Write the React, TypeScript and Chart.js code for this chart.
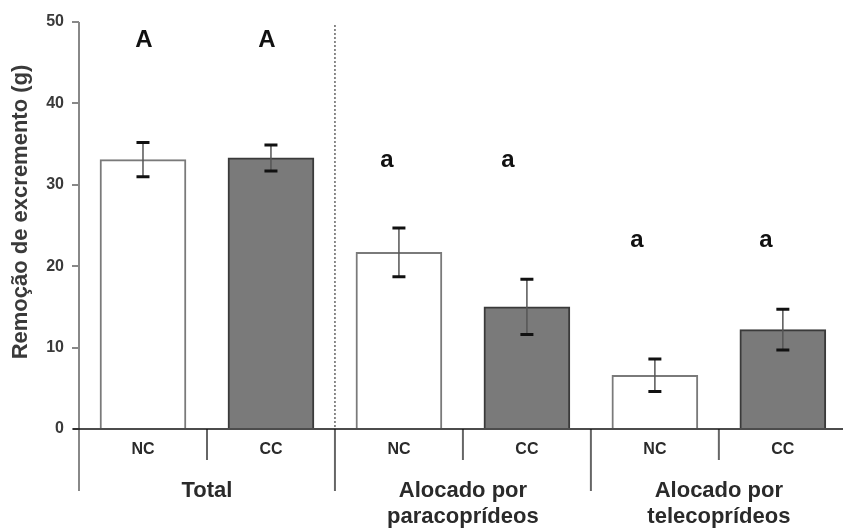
import React, { useEffect, useRef } from "react";
import { Chart, registerables } from "chart.js";

Chart.register(...registerables);

// ---- data ----
const categories = ["NC", "CC", "NC", "CC", "NC", "CC"];
const groupLabels = [["Total"], ["Alocado por", "paracoprídeos"], ["Alocado por", "telecoprídeos"]];
const means = [33.1, 33.3, 21.7, 15.0, 6.6, 12.2];
const errors = [2.1, 1.6, 3.0, 3.4, 2.0, 2.5];
const letters = ["A", "A", "a", "a", "a", "a"];
const letterLevels = [47.8, 47.8, 33.0, 33.0, 23.2, 23.2];
const yTicks = [0, 10, 20, 30, 40, 50];
const yTitle = "Remoção de excremento (g)";

const FONT = "'Liberation Sans', Arial, Helvetica, sans-serif";
const LETTER_SHIFT = [1, -4, -12, -19, -18, -17];

const decorPlugin = {
  id: "decor",
  afterDatasetsDraw(chart: any) {
    const ctx = chart.ctx;
    const xs = chart.scales.x;
    const ys = chart.scales.y;
    ctx.save();
    means.forEach((m, i) => {
      const x = xs.getPixelForValue(i);
      const yt = ys.getPixelForValue(m + errors[i]);
      const yb = ys.getPixelForValue(m - errors[i]);
      ctx.strokeStyle = "#555";
      ctx.lineWidth = 1.5;
      ctx.beginPath();
      ctx.moveTo(x, yt);
      ctx.lineTo(x, yb);
      ctx.stroke();
      ctx.strokeStyle = "#111";
      ctx.lineWidth = 3;
      ctx.beginPath();
      ctx.moveTo(x - 6.5, yt);
      ctx.lineTo(x + 6.5, yt);
      ctx.moveTo(x - 6.5, yb);
      ctx.lineTo(x + 6.5, yb);
      ctx.stroke();
    });
    ctx.restore();
  },
  afterDraw(chart: any) {
    const ctx = chart.ctx;
    const xs = chart.scales.x;
    const ys = chart.scales.y;
    const area = chart.chartArea;
    const y0 = ys.getPixelForValue(0);
    ctx.save();
    // y axis line (extends below zero)
    ctx.strokeStyle = "#888";
    ctx.lineWidth = 2;
    ctx.beginPath();
    ctx.moveTo(area.left, area.top);
    ctx.lineTo(area.left, 491);
    ctx.stroke();
    // dotted divider
    ctx.strokeStyle = "#666";
    ctx.lineWidth = 1.5;
    ctx.setLineDash([2, 2]);
    ctx.beginPath();
    const xd = xs.getPixelForValue(1.5);
    ctx.moveTo(xd, area.top + 3);
    ctx.lineTo(xd, y0);
    ctx.stroke();
    ctx.setLineDash([]);
    // separators
    ctx.strokeStyle = "#666";
    ctx.lineWidth = 2;
    [0.5, 2.5, 4.5].forEach((v) => {
      const x = xs.getPixelForValue(v);
      ctx.beginPath();
      ctx.moveTo(x, y0);
      ctx.lineTo(x, 460);
      ctx.stroke();
    });
    [1.5, 3.5].forEach((v) => {
      const x = xs.getPixelForValue(v);
      ctx.beginPath();
      ctx.moveTo(x, y0);
      ctx.lineTo(x, 491);
      ctx.stroke();
    });
    // x axis line
    ctx.strokeStyle = "#111";
    ctx.lineWidth = 1.5;
    ctx.beginPath();
    ctx.moveTo(area.left - 6, y0);
    ctx.lineTo(area.right, y0);
    ctx.stroke();
    // group labels
    ctx.fillStyle = "#2a2a2a";
    ctx.font = `bold 22px ${FONT}`;
    ctx.textAlign = "center";
    ctx.textBaseline = "middle";
    groupLabels.forEach((lines, g) => {
      const x = xs.getPixelForValue(g * 2 + 0.5);
      lines.forEach((t, k) => ctx.fillText(t, x, 491 + k * 26));
    });
    // significance letters
    ctx.fillStyle = "#111";
    ctx.font = `bold 24px ${FONT}`;
    letters.forEach((l, i) => {
      ctx.fillText(l, xs.getPixelForValue(i) + LETTER_SHIFT[i], ys.getPixelForValue(letterLevels[i]));
    });
    // y title
    ctx.translate(21, 212);
    ctx.rotate(-Math.PI / 2);
    ctx.fillStyle = "#3a3a3a";
    ctx.font = `bold 22px ${FONT}`;
    ctx.fillText(yTitle, 0, 0);
    ctx.restore();
  },
};

export default function App() {
  const ref = useRef<HTMLCanvasElement | null>(null);
  useEffect(() => {
    if (!ref.current) return;
    const chart = new Chart(ref.current, {
      type: "bar",
      data: {
        datasets: [
          {
            data: means.map((y, i) => ({ x: i, y })),
            backgroundColor: categories.map((c) => (c === "NC" ? "#ffffff" : "#7a7a7a")),
            borderColor: categories.map((c) => (c === "NC" ? "#7a7a7a" : "#3a3a3a")),
            borderWidth: 2,
            borderSkipped: "bottom",
            barThickness: 86,
          } as any,
        ],
      },
      options: {
        animation: false,
        responsive: false,
        maintainAspectRatio: false,
        layout: { padding: { top: 22, left: 0, right: 0, bottom: 0 } },
        plugins: { legend: { display: false }, tooltip: { enabled: false } },
        scales: {
          x: {
            type: "linear",
            offset: false,
            min: -0.5,
            max: 5.47,
            afterBuildTicks: (s: any) => {
              s.ticks = categories.map((_, i) => ({ value: i }));
            },
            afterFit: (s: any) => {
              s.height = 99;
            },
            ticks: {
              callback: (v: any) => categories[v as number] ?? "",
              font: { family: FONT, size: 16, weight: "bold" },
              color: "#2a2a2a",
              padding: 3,
              autoSkip: false,
              maxRotation: 0,
            },
            grid: { display: false, offset: false },
            border: { display: false },
          },
          y: {
            min: 0,
            max: 50,
            afterBuildTicks: (s: any) => {
              s.ticks = yTicks.map((v) => ({ value: v }));
            },
            afterFit: (s: any) => {
              s.width = 79;
            },
            ticks: {
              font: { family: FONT, size: 16, weight: "bold" },
              color: "#3a3a3a",
              padding: 8,
            },
            grid: { drawOnChartArea: false, drawTicks: true, tickLength: 7, color: "#888", lineWidth: 2 },
            border: { display: false },
          },
        },
      } as any,
      plugins: [decorPlugin],
    });
    return () => chart.destroy();
  }, []);
  return (
    <div style={{ position: "fixed", left: 0, top: 0, width: 843, height: 528, background: "#fff" }}>
      <canvas ref={ref} width={843} height={528} style={{ display: "block" }} />
    </div>
  );
}
